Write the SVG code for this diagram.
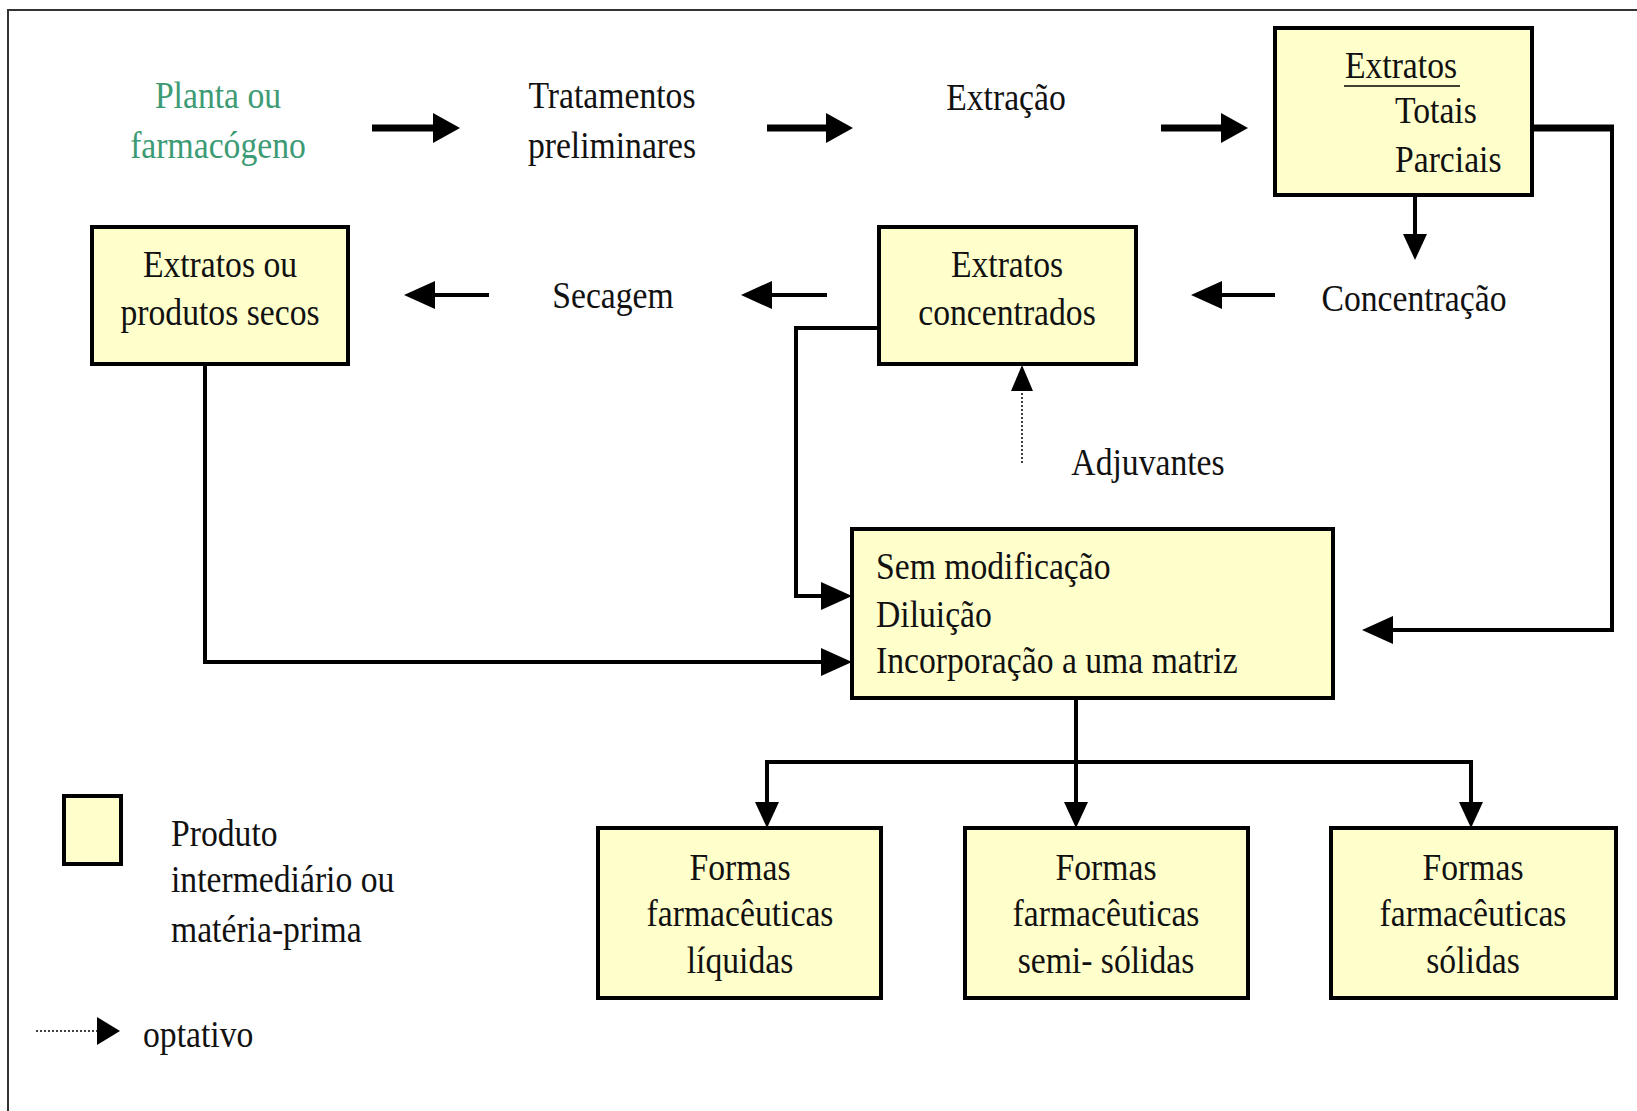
<svg xmlns="http://www.w3.org/2000/svg" width="1637" height="1111" viewBox="0 0 1637 1111">
<style>
.t{font-family:"Liberation Serif","Times New Roman",serif;font-size:37px;fill:#111}
.c{text-anchor:middle}
.g{fill:#3C9B74}
.box{fill:#FFFFCC;stroke:#000;stroke-width:4}
.ln{fill:none;stroke:#000;stroke-width:4}
.thick{fill:none;stroke:#000;stroke-width:7}
.dot{fill:none;stroke:#000;stroke-width:1.5;stroke-dasharray:2,2}
</style>
<defs>
<marker id="hBig" markerUnits="userSpaceOnUse" markerWidth="27" markerHeight="30" refX="0" refY="15" orient="auto"><path d="M0,0 L27,15 L0,30 z" fill="#000"/></marker>
<marker id="hMid" markerUnits="userSpaceOnUse" markerWidth="31" markerHeight="28" refX="0" refY="14" orient="auto"><path d="M0,0 L31,14 L0,28 z" fill="#000"/></marker>
<marker id="hSm" markerUnits="userSpaceOnUse" markerWidth="26" markerHeight="24" refX="0" refY="12" orient="auto"><path d="M0,0 L26,12 L0,24 z" fill="#000"/></marker>
<marker id="hDot" markerUnits="userSpaceOnUse" markerWidth="26" markerHeight="22" refX="0" refY="11" orient="auto"><path d="M0,0 L26,11 L0,22 z" fill="#000"/></marker>
</defs>
<rect width="1637" height="1111" fill="#fff"/>
<path d="M8,1111 V10 H1637" fill="none" stroke="#333" stroke-width="2"/>

<g id="connectors">
<path class="thick" d="M372,128 H433" marker-end="url(#hBig)"/>
<path class="thick" d="M767,128 H826" marker-end="url(#hBig)"/>
<path class="thick" d="M1161,128 H1221" marker-end="url(#hBig)"/>
<path class="ln" d="M1275,295 H1222" marker-end="url(#hMid)"/>
<path class="ln" d="M827,295 H772" marker-end="url(#hMid)"/>
<path class="ln" d="M489,295 H435" marker-end="url(#hMid)"/>
<path class="ln" d="M1415,195 V234" stroke-width="3" marker-end="url(#hSm)"/>
<path class="thick" d="M1532,128 H1614" stroke-width="6"/>
<path class="ln" d="M1612,125 V630 H1393" marker-end="url(#hMid)"/>
<path class="ln" d="M879,328 H796 V596 H821" marker-end="url(#hMid)"/>
<path class="ln" d="M205,364 V662 H821" marker-end="url(#hMid)"/>
<path class="dot" d="M1022,463 V391" marker-end="url(#hDot)"/>
<path class="ln" d="M1076,698 V762" stroke-width="3.5"/>
<path class="ln" d="M767,802 V762 H1471 V802" stroke-width="3.5"/>
<path class="ln" d="M767,762 V802" stroke-width="3.5" marker-end="url(#hSm)"/>
<path class="ln" d="M1076,762 V802" stroke-width="3.5" marker-end="url(#hSm)"/>
<path class="ln" d="M1471,762 V802" stroke-width="3.5" marker-end="url(#hSm)"/>
</g>

<g id="planta">
<text class="t c g" transform="translate(218,108) scale(0.91,1)">Planta ou</text>
<text class="t c g" transform="translate(218,158) scale(0.91,1)">farmacógeno</text>
</g>
<g id="tratamentos">
<text class="t c" transform="translate(612,108) scale(0.91,1)">Tratamentos</text>
<text class="t c" transform="translate(612,158) scale(0.91,1)">preliminares</text>
</g>
<g id="extracao">
<text class="t c" transform="translate(1006,110) scale(0.91,1)">Extração</text>
</g>
<g id="extratos">
<rect class="box" x="1275" y="28" width="257" height="167"/>
<text class="t c" transform="translate(1401,78) scale(0.91,1)">Extratos</text>
<line x1="1344" y1="86" x2="1460" y2="86" stroke="#000" stroke-width="1.5"/>
<text class="t" transform="translate(1395,123) scale(0.91,1)">Totais</text>
<text class="t" transform="translate(1395,172) scale(0.91,1)">Parciais</text>
</g>
<g id="concentracao">
<text class="t c" transform="translate(1414,311) scale(0.91,1)">Concentração</text>
</g>
<g id="concentrados">
<rect class="box" x="879" y="227" width="257" height="137"/>
<text class="t c" transform="translate(1007,277) scale(0.91,1)">Extratos</text>
<text class="t c" transform="translate(1007,325) scale(0.91,1)">concentrados</text>
</g>
<g id="secagem">
<text class="t c" transform="translate(613,308) scale(0.91,1)">Secagem</text>
</g>
<g id="secos">
<rect class="box" x="92" y="227" width="256" height="137"/>
<text class="t c" transform="translate(220,277) scale(0.91,1)">Extratos ou</text>
<text class="t c" transform="translate(220,325) scale(0.91,1)">produtos secos</text>
</g>
<g id="adjuvantes">
<text class="t c" transform="translate(1148,475) scale(0.91,1)">Adjuvantes</text>
</g>
<g id="processos">
<rect class="box" x="852" y="529" width="481" height="169"/>
<text class="t" transform="translate(876,579) scale(0.91,1)">Sem modificação</text>
<text class="t" transform="translate(876,627) scale(0.91,1)">Diluição</text>
<text class="t" transform="translate(876,673) scale(0.91,1)">Incorporação a uma matriz</text>
</g>
<g id="liquidas">
<rect class="box" x="598" y="828" width="283" height="170"/>
<text class="t c" transform="translate(740,880) scale(0.91,1)">Formas</text>
<text class="t c" transform="translate(740,926) scale(0.91,1)">farmacêuticas</text>
<text class="t c" transform="translate(740,973) scale(0.91,1)">líquidas</text>
</g>
<g id="semisolidas">
<rect class="box" x="965" y="828" width="283" height="170"/>
<text class="t c" transform="translate(1106,880) scale(0.91,1)">Formas</text>
<text class="t c" transform="translate(1106,926) scale(0.91,1)">farmacêuticas</text>
<text class="t c" transform="translate(1106,973) scale(0.91,1)">semi- sólidas</text>
</g>
<g id="solidas">
<rect class="box" x="1331" y="828" width="285" height="170"/>
<text class="t c" transform="translate(1473,880) scale(0.91,1)">Formas</text>
<text class="t c" transform="translate(1473,926) scale(0.91,1)">farmacêuticas</text>
<text class="t c" transform="translate(1473,973) scale(0.91,1)">sólidas</text>
</g>
<g id="legend">
<rect class="box" x="64" y="796" width="57" height="68"/>
<text class="t" transform="translate(171,846) scale(0.91,1)">Produto</text>
<text class="t" transform="translate(171,892) scale(0.91,1)">intermediário ou</text>
<text class="t" transform="translate(171,942) scale(0.91,1)">matéria-prima</text>
<path class="dot" d="M36,1031 H97"/>
<path d="M97,1017 L120,1031 L97,1045 z" fill="#000"/>
<text class="t" transform="translate(143,1047) scale(0.91,1)">optativo</text>
</g>
</svg>
